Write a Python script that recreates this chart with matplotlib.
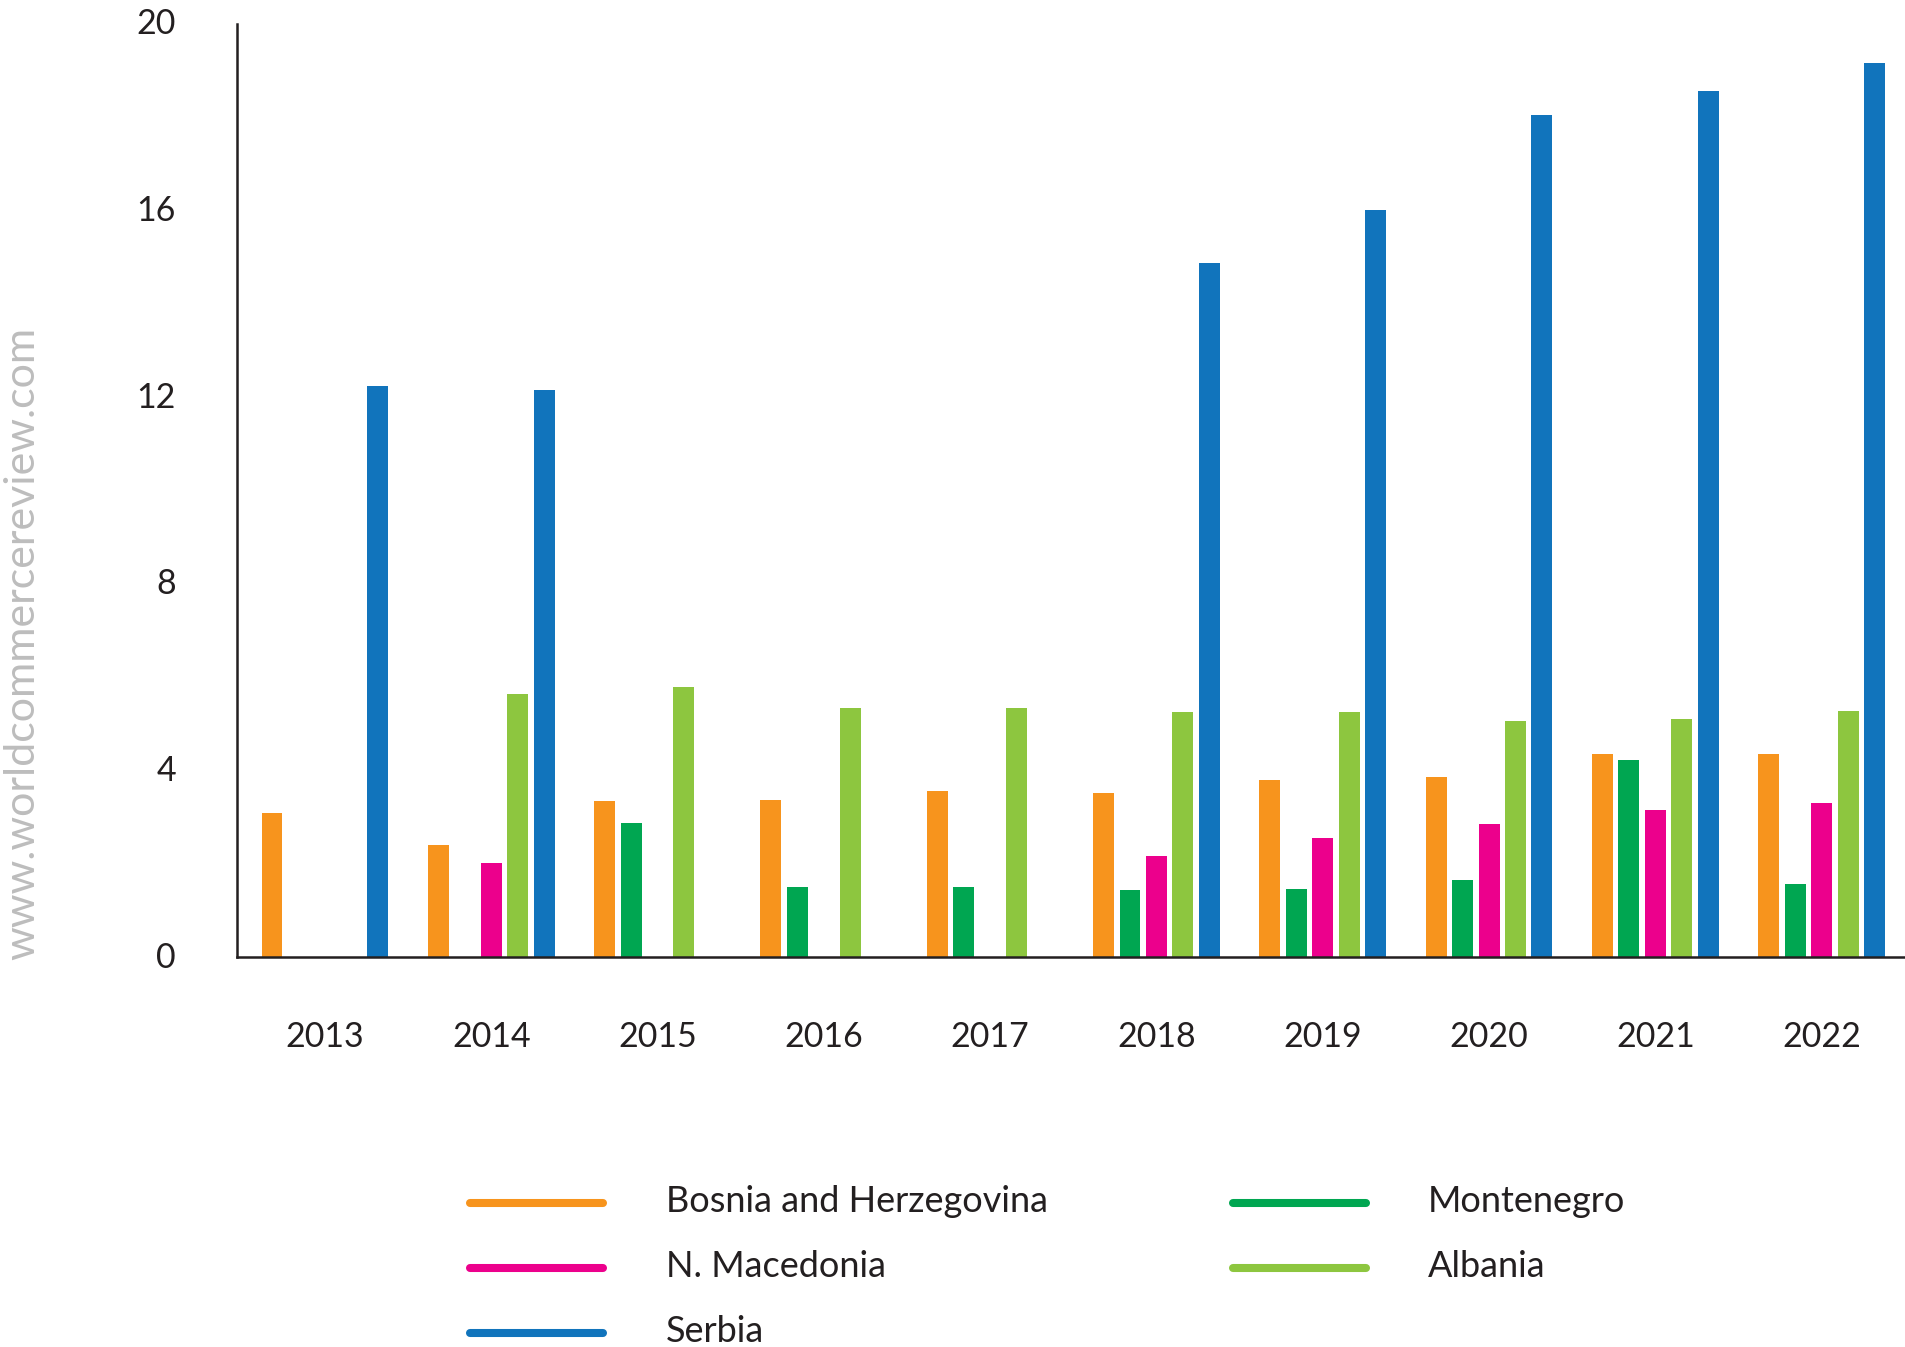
import matplotlib
matplotlib.use("Agg")
import matplotlib.pyplot as plt
import matplotlib.transforms as mtransforms
from matplotlib.lines import Line2D
import numpy as np

plt.rcParams["font.family"] = ["Lato", "DejaVu Sans"]

# Values by year (gaps where a country has no bar)
years = ["2013", "2014", "2015", "2016", "2017", "2018", "2019", "2020", "2021", "2022"]
bosnia = [3.09, 2.41, 3.35, 3.37, 3.56, 3.52, 3.80, 3.86, 4.36, 4.36]
montenegro = [np.nan, np.nan, 2.88, 1.51, 1.51, 1.44, 1.46, 1.66, 4.23, 1.57]
macedonia = [np.nan, 2.02, np.nan, np.nan, np.nan, 2.17, 2.56, 2.86, 3.16, 3.31]
albania = [np.nan, 5.64, 5.79, 5.34, 5.34, 5.26, 5.26, 5.06, 5.11, 5.28]
serbia = [12.24, 12.15, np.nan, np.nan, np.nan, 14.88, 16.01, 18.05, 18.56, 19.16]

series = [
    ("Bosnia and Herzegovina", bosnia, "#F7941D"),
    ("Montenegro", montenegro, "#00A651"),
    ("N. Macedonia", macedonia, "#EC008C"),
    ("Albania", albania, "#8DC63F"),
    ("Serbia", serbia, "#1174BC"),
]

TEXT = "#231F20"

fig = plt.figure(figsize=(19.06, 13.47), dpi=100)
ax = fig.add_axes([0.1243, 0.2895, 0.8757, 0.6927])

x = np.arange(len(years))
slot = 0.159
width = 0.126
for i, (name, vals, color) in enumerate(series):
    ax.bar(x + (i - 2) * slot, vals, width=width, color=color, linewidth=0)

ax.set_xlim(-0.529, 9.507)
ax.set_ylim(0, 20)
ax.set_yticks([0, 4, 8, 12, 16, 20])
ax.set_xticks(x)
ax.set_xticklabels(years)
ax.tick_params(axis="y", length=0, pad=44, labelsize=24.5, labelcolor=TEXT)
ax.tick_params(axis="x", length=0, pad=46, labelsize=24.5, labelcolor=TEXT)

# nudge the y labels up a touch so they sit on the gridline values
nudge = mtransforms.ScaledTranslation(0, 2.5 / 100, fig.dpi_scale_trans)
for lab in ax.get_yticklabels():
    lab.set_transform(lab.get_transform() + nudge)

for side in ["top", "right"]:
    ax.spines[side].set_visible(False)
for side in ["left", "bottom"]:
    ax.spines[side].set_color(TEXT)
    ax.spines[side].set_linewidth(1.8)

# watermark down the left edge
fig.text(0.0118, 0.522, "www.worldcommercereview.com", rotation=90,
         ha="center", va="center", fontsize=31, color="#BDBDBD")

# legend: two columns, filled top to bottom
legend_order = [0, 2, 4, 1, 3]
rows_y = [0.1069, 0.0586, 0.0104]
cols_x = [(0.2464, 0.3162, 0.3494), (0.6469, 0.7167, 0.7492)]
for k, idx in enumerate(legend_order):
    name, _, color = series[idx]
    col, row = divmod(k, 3)
    x0, x1, tx = cols_x[col]
    y = rows_y[row]
    fig.add_artist(Line2D([x0, x1], [y, y], transform=fig.transFigure,
                          color=color, linewidth=5.8, solid_capstyle="round"))
    fig.text(tx, y - 0.0067, name, ha="left", va="baseline",
             fontsize=26, color=TEXT)

fig.savefig("out.png", dpi=100)
